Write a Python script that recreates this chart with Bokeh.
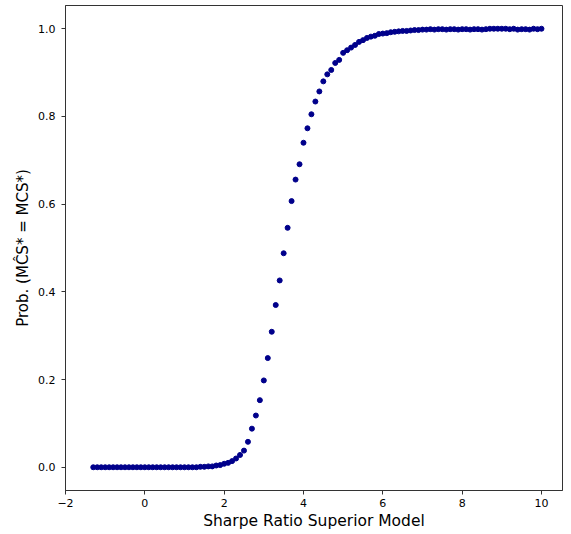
from bokeh.plotting import figure
from bokeh.models import FixedTicker, CustomJSTickFormatter, Range1d, ColumnDataSource
from bokeh.embed import file_html
from bokeh.resources import INLINE

# Sharpe ratio of the superior model (x) and probability of correct MCS (y)
sharpe = [
    -1.3, -1.2, -1.1, -1.0, -0.9, -0.8, -0.7, -0.6, -0.5, -0.4, -0.3, -0.2, -0.1,
    0.0, 0.1, 0.2, 0.3, 0.4, 0.5, 0.6, 0.7, 0.8, 0.9, 1.0, 1.1, 1.2, 1.3,
    1.4, 1.5, 1.6, 1.7, 1.8, 1.9,
    2.0, 2.1, 2.2, 2.3, 2.4, 2.5, 2.6, 2.7, 2.8, 2.9,
    3.0, 3.1, 3.2, 3.3, 3.4, 3.5, 3.6, 3.7, 3.8, 3.9,
    4.0, 4.1, 4.2, 4.3, 4.4, 4.5, 4.6, 4.7, 4.8, 4.9,
    5.0, 5.1, 5.2, 5.3, 5.4, 5.5, 5.6, 5.7, 5.8, 5.9,
    6.0, 6.1, 6.2, 6.3, 6.4, 6.5, 6.6, 6.7, 6.8, 6.9,
    7.0, 7.1, 7.2, 7.3, 7.4, 7.5, 7.6, 7.7, 7.8, 7.9,
    8.0, 8.1, 8.2, 8.3, 8.4, 8.5, 8.6, 8.7, 8.8, 8.9,
    9.0, 9.1, 9.2, 9.3, 9.4, 9.5, 9.6, 9.7, 9.8, 9.9,
    10.0,
]
prob = [
    0.0, 0.0, 0.0, 0.0, 0.0, 0.0, 0.0, 0.0, 0.0, 0.0, 0.0, 0.0, 0.0,
    0.0, 0.0, 0.0, 0.0, 0.0, 0.0, 0.0, 0.0, 0.0, 0.0, 0.0, 0.0, 0.0, 0.0,
    0.001, 0.001, 0.002, 0.002, 0.004, 0.005,
    0.008, 0.010, 0.014, 0.020, 0.028, 0.038, 0.058, 0.088, 0.118, 0.153,
    0.198, 0.249, 0.309, 0.370, 0.426, 0.488, 0.546, 0.607, 0.656, 0.691,
    0.740, 0.773, 0.805, 0.834, 0.857, 0.880, 0.896, 0.906, 0.922, 0.929,
    0.945, 0.951, 0.957, 0.963, 0.970, 0.974, 0.979, 0.982, 0.984, 0.988,
    0.989, 0.990, 0.992, 0.993, 0.994, 0.995, 0.995, 0.996, 0.997, 0.997,
    0.998, 0.998, 0.999, 0.998, 0.999, 0.999, 0.998, 0.999, 0.999, 0.998,
    0.999, 0.999, 0.998, 0.999, 0.999, 0.998, 0.999, 1.000, 1.000, 1.000,
    1.000, 1.000, 0.999, 1.000, 0.998, 0.999, 0.999, 0.998, 1.000, 0.999,
    1.000,
]
x_ticks = [-2, 0, 2, 4, 6, 8, 10]
y_ticks = [0.0, 0.2, 0.4, 0.6, 0.8, 1.0]
x_label = "Sharpe Ratio Superior Model"
y_label = "Prob. (M\u0108S* = MCS*)"

src = ColumnDataSource(dict(x=sharpe, y=prob))

p = figure(width=571, height=534, output_backend="svg", toolbar_location=None,
           x_range=Range1d(-2, 10.53), y_range=Range1d(-0.053, 1.053),
           min_border_left=65, min_border_right=9, min_border_top=5,
           min_border_bottom=44, background_fill_color="white",
           border_fill_color="white")

p.scatter("x", "y", source=src, size=5, color="#00008b", line_color="#00008b")

p.grid.visible = False
p.outline_line_color = "#333333"
p.outline_line_width = 1

p.xaxis.ticker = FixedTicker(ticks=x_ticks)
p.yaxis.ticker = FixedTicker(ticks=y_ticks)
p.xaxis.formatter = CustomJSTickFormatter(
    code="return tick < 0 ? '\u2212' + String(-tick) : String(tick);")
p.yaxis.formatter = CustomJSTickFormatter(code="return tick.toFixed(1);")

for ax in (p.xaxis[0], p.yaxis[0]):
    ax.axis_line_color = "#333333"
    ax.major_tick_line_color = "#333333"
    ax.major_tick_out = 4
    ax.major_tick_in = 0
    ax.minor_tick_line_color = None
    ax.major_label_text_font = "DejaVu Sans"
    ax.major_label_text_font_size = "11px"
    ax.major_label_text_color = "black"
    ax.axis_label_text_font = "DejaVu Sans"
    ax.axis_label_text_font_style = "normal"
    ax.axis_label_text_color = "black"

p.xaxis.axis_label_text_font_size = "15.5px"
p.yaxis.axis_label_text_font_size = "15px"
p.xaxis.axis_label = x_label
p.yaxis.axis_label = y_label
p.xaxis.major_label_standoff = 4
p.yaxis.major_label_standoff = 6
p.xaxis.axis_label_standoff = 2
p.yaxis.axis_label_standoff = 3

open("out.html", "w").write(file_html(p, INLINE))
